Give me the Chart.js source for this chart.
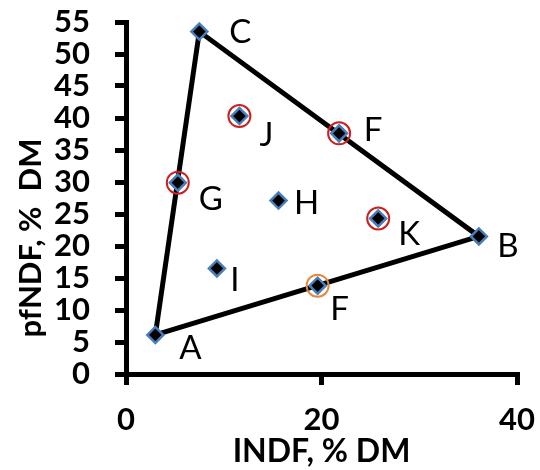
<!DOCTYPE html>
<html>
<head>
<meta charset="utf-8">
<script src="https://cdn.jsdelivr.net/npm/chart.js@4"></script>
<style>
  html, body { margin: 0; padding: 0; background: #fff; }
  #wrap { width: 540px; height: 470px; }
</style>
</head>
<body>
<div id="wrap"><canvas id="chart" width="540" height="470"></canvas></div>
<script>
// point names and values (INDF, pfNDF)
const names = ["A", "B", "C", "F", "F", "G", "H", "I", "J", "K"];
const indf = [3.0, 36.1, 7.5, 21.8, 19.6, 5.3, 15.6, 9.3, 11.6, 25.8];
const pfndf = [6.1, 21.5, 53.5, 37.6, 13.8, 29.9, 27.1, 16.5, 40.3, 24.3];

// triangle corners A -> B -> C -> A
const triX = [3.0, 36.1, 7.5, 3.0];
const triY = [6.1, 21.5, 53.5, 6.1];

// circled points: index into the arrays above, and ring colour
const circled = [3, 5, 8, 9, 4];
const ringColors = ["#cc1f1f", "#cc1f1f", "#cc1f1f", "#cc1f1f", "#e2883a"];

const xTicks = [0, 20, 40];
const yTicks = [0, 5, 10, 15, 20, 25, 30, 35, 40, 45, 50, 55];

// label offsets in px from each point (style only)
const labelOffsets = [[35, 13], [29, 10], [41, 1], [34, -3], [22, 24], [33, 17], [28, 3], [18, 12], [27, 19], [31, 16]];

const pts = indf.map((x, i) => ({ x: x, y: pfndf[i] }));

const pointLabels = {
    id: 'pointLabels',
    afterDatasetsDraw(chart) {
        const ctx = chart.ctx;
        const xs = chart.scales.x, ys = chart.scales.y;
        ctx.save();
        ctx.fillStyle = '#000';
        ctx.font = '33px Lato';
        ctx.textAlign = 'center';
        ctx.textBaseline = 'middle';
        names.forEach((n, i) => {
            const px = xs.getPixelForValue(indf[i]) + labelOffsets[i][0];
            const py = ys.getPixelForValue(pfndf[i]) + labelOffsets[i][1];
            ctx.fillText(n, px, py);
        });
        // y axis title
        ctx.translate(31, 238);
        ctx.rotate(-Math.PI / 2);
        ctx.font = 'bold 31px Lato';
        ctx.fillText('pfNDF, %  DM', 0, 0);
        ctx.restore();
    }
};

new Chart(document.getElementById('chart'), {
    type: 'scatter',
    data: {
        datasets: [
            {
                data: circled.map(i => pts[i]),
                pointStyle: 'circle',
                pointRadius: 11,
                pointHoverRadius: 11,
                backgroundColor: 'rgba(0,0,0,0)',
                borderColor: ringColors,
                borderWidth: 2,
                order: 0
            },
            {
                data: pts,
                pointStyle: 'rectRot',
                pointRadius: 8,
                pointHoverRadius: 8,
                backgroundColor: '#000',
                borderColor: '#4a7ebb',
                borderWidth: 2.5,
                order: 1
            },
            {
                data: triX.map((x, i) => ({ x: x, y: triY[i] })),
                showLine: true,
                borderColor: '#000',
                borderWidth: 5,
                pointRadius: 0,
                order: 2
            }
        ]
    },
    options: {
        responsive: false,
        animation: false,
        events: [],
        layout: { padding: { top: 22, right: 23, left: 0, bottom: 0 } },
        plugins: { legend: { display: false }, tooltip: { enabled: false } },
        scales: {
            x: {
                type: 'linear',
                min: 0, max: 40,
                afterBuildTicks: s => { s.ticks = xTicks.map(v => ({ value: v })); },
                afterFit: s => { s.height = 96; s.paddingLeft = 0; s.paddingRight = 0; },
                border: { display: true, color: '#000', width: 5 },
                grid: { drawOnChartArea: false, drawTicks: true, tickLength: 11, color: '#000', lineWidth: 5 },
                ticks: { color: '#000', padding: 16, autoSkip: false, maxRotation: 0, font: { family: 'Lato', weight: 'bold', size: 31 } },
                title: { display: true, text: 'INDF, % DM', color: '#000', padding: { top: 0, bottom: -1 }, font: { family: 'Lato', weight: 'bold', size: 32 } }
            },
            y: {
                type: 'linear',
                min: 0, max: 55,
                afterBuildTicks: s => { s.ticks = yTicks.map(v => ({ value: v })); },
                afterFit: s => { s.width = 126; s.paddingTop = 0; s.paddingBottom = 0; },
                border: { display: true, color: '#000', width: 5 },
                grid: { drawOnChartArea: false, drawTicks: true, tickLength: 11, color: '#000', lineWidth: 5 },
                ticks: { color: '#000', padding: 25, autoSkip: false, font: { family: 'Lato', weight: 'bold', size: 31 } }
            }
        }
    },
    plugins: [pointLabels]
});
</script>
</body>
</html>
